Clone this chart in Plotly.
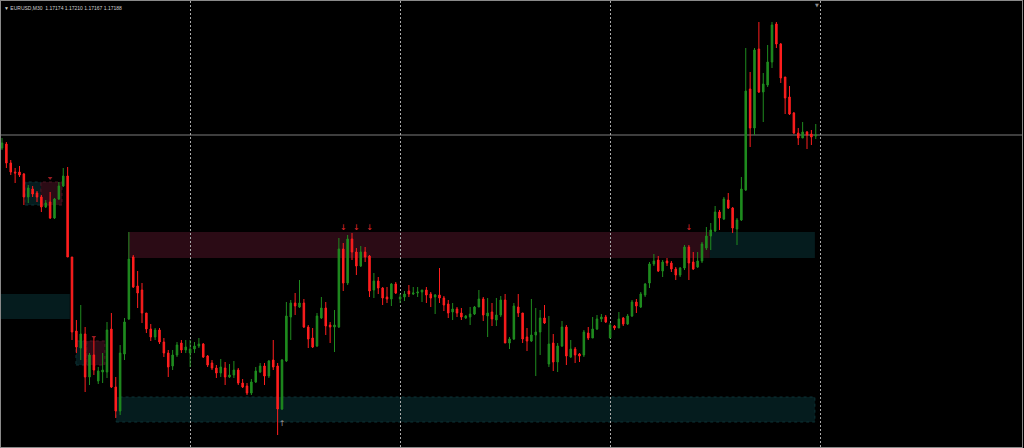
import plotly.graph_objects as go

# ---------------- data (EURUSD M30, bar index = position in window) ----------------
open_ = [
    1.17175, 1.17179, 1.17160, 1.17151, 1.17151, 1.17149, 1.17126, 1.17134, 1.17130, 1.17126,
    1.17116, 1.17121, 1.17105, 1.17124, 1.17137, 1.17147, 1.17066, 1.16992, 1.16975, 1.16989,
    1.16946, 1.16968, 1.16942, 1.16951, 1.16951, 1.16994, 1.16936, 1.16912, 1.16969, 1.17004,
    1.17066, 1.17037, 1.17033, 1.17010, 1.16994, 1.16986, 1.16993, 1.16981, 1.16970, 1.16957,
    1.16968, 1.16980, 1.16973, 1.16970, 1.16974, 1.16977, 1.16979, 1.16967, 1.16960, 1.16955,
    1.16950, 1.16955, 1.16946, 1.16948, 1.16953, 1.16940, 1.16937, 1.16930, 1.16941, 1.16951,
    1.16957, 1.16947, 1.16963, 1.16957, 1.16914, 1.16962, 1.17006, 1.17020, 1.17016, 1.17020,
    1.16996, 1.16985, 1.16977, 1.17005, 1.17015, 1.16998, 1.16996, 1.16996, 1.17074, 1.17040,
    1.17084, 1.17071, 1.17057, 1.17071, 1.17067, 1.17033, 1.17042, 1.17035, 1.17026, 1.17024,
    1.17039, 1.17024, 1.17026, 1.17032, 1.17029, 1.17030, 1.17031, 1.17033, 1.17029, 1.17026,
    1.17028, 1.17025, 1.17019, 1.17011, 1.17014, 1.17010, 1.17005, 1.17006, 1.17009, 1.17016,
    1.17024, 1.17007, 1.17011, 1.17003, 1.17008, 1.17023, 1.16980, 1.16984, 1.17016, 1.17010,
    1.16986, 1.16982, 1.16988, 1.16991, 1.17005, 1.16959, 1.16980, 1.16961, 1.16977, 1.16996,
    1.16966, 1.16974, 1.16969, 1.16968, 1.16990, 1.16985, 1.16994, 1.17004, 1.17006, 1.16985,
    1.16997, 1.16995, 1.17005, 1.16999, 1.17007, 1.17021, 1.17016, 1.17028, 1.17040, 1.17059,
    1.17063, 1.17052, 1.17062, 1.17060, 1.17054, 1.17048, 1.17055, 1.17076, 1.17061, 1.17056,
    1.17062, 1.17075, 1.17087, 1.17092, 1.17111, 1.17104, 1.17123, 1.17115, 1.17094, 1.17103,
    1.17133, 1.17234, 1.17195, 1.17274, 1.17231, 1.17238, 1.17261, 1.17299, 1.17279, 1.17246,
    1.17226, 1.17210, 1.17190, 1.17185, 1.17191, 1.17189, 1.17187,
]
high = [
    1.17185, 1.17181, 1.17163, 1.17155, 1.17157, 1.17150, 1.17138, 1.17137, 1.17132, 1.17128,
    1.17123, 1.17131, 1.17125, 1.17141, 1.17155, 1.17156, 1.17066, 1.17003, 1.17018, 1.16996,
    1.16970, 1.16986, 1.16956, 1.16970, 1.17001, 1.17010, 1.16946, 1.16978, 1.17005, 1.17091,
    1.17068, 1.17052, 1.17040, 1.17010, 1.16999, 1.16995, 1.16995, 1.16985, 1.16973, 1.16973,
    1.16981, 1.16983, 1.16983, 1.16983, 1.16981, 1.16985, 1.16980, 1.16968, 1.16963, 1.16958,
    1.16964, 1.16961, 1.16959, 1.16962, 1.16955, 1.16944, 1.16940, 1.16944, 1.16956, 1.16960,
    1.16960, 1.16963, 1.16983, 1.16960, 1.16964, 1.17021, 1.17023, 1.17030, 1.17043, 1.17024,
    1.16998, 1.16995, 1.17010, 1.17026, 1.17021, 1.17001, 1.17013, 1.17085, 1.17080, 1.17088,
    1.17090, 1.17075, 1.17077, 1.17076, 1.17068, 1.17050, 1.17046, 1.17036, 1.17036, 1.17040,
    1.17041, 1.17029, 1.17032, 1.17038, 1.17036, 1.17036, 1.17033, 1.17036, 1.17031, 1.17029,
    1.17055, 1.17027, 1.17023, 1.17020, 1.17016, 1.17015, 1.17008, 1.17016, 1.17017, 1.17033,
    1.17026, 1.17025, 1.17020, 1.17025, 1.17027, 1.17029, 1.16986, 1.17020, 1.17029, 1.17010,
    1.16995, 1.17024, 1.17015, 1.17013, 1.17018, 1.17007, 1.16989, 1.16980, 1.17002, 1.16998,
    1.16983, 1.16976, 1.16970, 1.16993, 1.16996, 1.17006, 1.17008, 1.17009, 1.17008, 1.17000,
    1.16998, 1.17011, 1.17006, 1.17009, 1.17023, 1.17024, 1.17031, 1.17040, 1.17061, 1.17069,
    1.17067, 1.17063, 1.17065, 1.17062, 1.17056, 1.17056, 1.17078, 1.17078, 1.17071, 1.17071,
    1.17081, 1.17096, 1.17100, 1.17117, 1.17113, 1.17126, 1.17130, 1.17116, 1.17105, 1.17146,
    1.17275, 1.17251, 1.17275, 1.17301, 1.17250, 1.17278, 1.17301, 1.17301, 1.17280, 1.17246,
    1.17237, 1.17211, 1.17195, 1.17201, 1.17192, 1.17193, 1.17199,
]
low = [
    1.17173, 1.17155, 1.17148, 1.17140, 1.17146, 1.17118, 1.17120, 1.17126, 1.17121, 1.17111,
    1.17115, 1.17104, 1.17104, 1.17123, 1.17136, 1.17066, 1.16983, 1.16970, 1.16963, 1.16931,
    1.16938, 1.16948, 1.16939, 1.16940, 1.16945, 1.16935, 1.16905, 1.16908, 1.16963, 1.17003,
    1.17035, 1.17015, 1.17000, 1.16990, 1.16982, 1.16983, 1.16979, 1.16966, 1.16946, 1.16953,
    1.16966, 1.16970, 1.16970, 1.16956, 1.16970, 1.16975, 1.16965, 1.16956, 1.16953, 1.16945,
    1.16946, 1.16938, 1.16945, 1.16945, 1.16938, 1.16935, 1.16928, 1.16928, 1.16940, 1.16950,
    1.16938, 1.16945, 1.16953, 1.16888, 1.16913, 1.16961, 1.16983, 1.17008, 1.17015, 1.16995,
    1.16975, 1.16975, 1.16976, 1.17004, 1.16988, 1.16980, 1.16971, 1.16995, 1.17032, 1.17038,
    1.17063, 1.17048, 1.17056, 1.17061, 1.17026, 1.17025, 1.17029, 1.17018, 1.17020, 1.17017,
    1.17029, 1.17020, 1.17022, 1.17026, 1.17028, 1.17026, 1.17021, 1.17020, 1.17016, 1.17009,
    1.17020, 1.17012, 1.17005, 1.17003, 1.17006, 1.17003, 1.17004, 1.16998, 1.17008, 1.17016,
    1.17002, 1.16986, 1.16997, 1.16997, 1.17006, 1.16980, 1.16974, 1.16983, 1.17006, 1.16980,
    1.16972, 1.16981, 1.16947, 1.16968, 1.16999, 1.16956, 1.16952, 1.16951, 1.16976, 1.16958,
    1.16965, 1.16960, 1.16961, 1.16966, 1.16983, 1.16985, 1.16993, 1.17001, 1.17000, 1.16985,
    1.16993, 1.16995, 1.16997, 1.16998, 1.17006, 1.17010, 1.17015, 1.17026, 1.17035, 1.17057,
    1.17051, 1.17046, 1.17057, 1.17051, 1.17043, 1.17046, 1.17053, 1.17043, 1.17053, 1.17055,
    1.17060, 1.17073, 1.17073, 1.17091, 1.17093, 1.17103, 1.17114, 1.17090, 1.17078, 1.17102,
    1.17132, 1.17176, 1.17188, 1.17230, 1.17201, 1.17236, 1.17255, 1.17275, 1.17240, 1.17209,
    1.17208, 1.17189, 1.17178, 1.17185, 1.17174, 1.17178, 1.17184,
]
close = [
    1.17180, 1.17160, 1.17151, 1.17150, 1.17148, 1.17126, 1.17135, 1.17129, 1.17126, 1.17116,
    1.17120, 1.17105, 1.17124, 1.17137, 1.17147, 1.17066, 1.16991, 1.16976, 1.16989, 1.16946,
    1.16968, 1.16953, 1.16952, 1.16953, 1.16993, 1.16936, 1.16912, 1.16970, 1.17001, 1.17064,
    1.17036, 1.17030, 1.17010, 1.16994, 1.16986, 1.16993, 1.16981, 1.16970, 1.16956, 1.16968,
    1.16978, 1.16973, 1.16976, 1.16974, 1.16977, 1.16979, 1.16966, 1.16958, 1.16955, 1.16950,
    1.16956, 1.16946, 1.16948, 1.16953, 1.16940, 1.16936, 1.16930, 1.16941, 1.16952, 1.16957,
    1.16947, 1.16962, 1.16956, 1.16914, 1.16963, 1.17007, 1.17020, 1.17017, 1.17020, 1.16996,
    1.16984, 1.16976, 1.17007, 1.17015, 1.16997, 1.16996, 1.16998, 1.17074, 1.17040, 1.17084,
    1.17071, 1.17057, 1.17071, 1.17066, 1.17032, 1.17042, 1.17035, 1.17025, 1.17024, 1.17039,
    1.17030, 1.17026, 1.17029, 1.17029, 1.17030, 1.17031, 1.17033, 1.17028, 1.17025, 1.17028,
    1.17025, 1.17018, 1.17010, 1.17014, 1.17010, 1.17006, 1.17007, 1.17009, 1.17016, 1.17024,
    1.17008, 1.17010, 1.17004, 1.17008, 1.17023, 1.16980, 1.16984, 1.17017, 1.17010, 1.16984,
    1.16982, 1.16988, 1.16991, 1.17005, 1.17000, 1.16979, 1.16961, 1.16977, 1.16996, 1.16967,
    1.16974, 1.16968, 1.16967, 1.16991, 1.16985, 1.16994, 1.17004, 1.17006, 1.17001, 1.16998,
    1.16995, 1.17004, 1.16999, 1.17007, 1.17021, 1.17017, 1.17029, 1.17039, 1.17059, 1.17062,
    1.17052, 1.17061, 1.17060, 1.17054, 1.17048, 1.17055, 1.17076, 1.17060, 1.17054, 1.17062,
    1.17079, 1.17087, 1.17093, 1.17111, 1.17105, 1.17124, 1.17115, 1.17095, 1.17103, 1.17134,
    1.17232, 1.17195, 1.17273, 1.17231, 1.17239, 1.17261, 1.17298, 1.17279, 1.17245, 1.17225,
    1.17209, 1.17190, 1.17185, 1.17191, 1.17188, 1.17186, 1.17188,
]
bars = list(range(len(close)))

# day separators (every 48 M30 bars)
day_bars = [43, 91, 139, 187]
bid_price = 1.17188
header = "▼ EURUSD,M30  1.17174 1.17210 1.17167 1.17188"

# supply / demand zones: (kind, first bar, last bar, upper price, lower price, dashed)
zones = [
    ("supply", 28.8, 161.8, 1.17091, 1.17065, False),
    ("demand", 161.8, 185.8, 1.17091, 1.17065, False),
    ("demand", -2.0, 15.5, 1.17029, 1.17004, False),
    ("demand", 26.1, 185.8, 1.16926, 1.16901, True),
    ("demand", 5.3, 8.9, 1.17141, 1.17118, True),
    ("supply", 8.9, 13.7, 1.17141, 1.17118, True),
    ("demand", 16.9, 19.4, 1.16982, 1.16958, True),
    ("supply", 19.4, 23.5, 1.16982, 1.16958, True),
]
sell_arrow_bars = [78, 81, 84, 157]
sell_arrow_price = 1.17095
buy_arrow_bars = [64]
buy_arrow_price = 1.16899
small_mark_bars = [11, 21]
small_mark_prices = [1.17145, 1.16986]

# ---------------- figure ----------------
UP = "#1f8c1f"
DN = "#ff1e1e"

fig = go.Figure()
fig.add_trace(go.Candlestick(
    x=bars, open=open_, high=high, low=low, close=close,
    increasing=dict(line=dict(color=UP, width=1), fillcolor=UP),
    decreasing=dict(line=dict(color=DN, width=1), fillcolor=DN),
    whiskerwidth=0, hoverinfo="skip", showlegend=False,
))

fig.add_trace(go.Scatter(
    x=sell_arrow_bars, y=[sell_arrow_price] * len(sell_arrow_bars),
    mode="text", text=["↓"] * len(sell_arrow_bars),
    textfont=dict(color="#e8282c", size=8, family="DejaVu Sans"),
    hoverinfo="skip", showlegend=False,
))
fig.add_trace(go.Scatter(
    x=buy_arrow_bars, y=[buy_arrow_price] * len(buy_arrow_bars),
    mode="text", text=["↑"] * len(buy_arrow_bars),
    textfont=dict(color="#9a9a9a", size=8, family="DejaVu Sans"),
    hoverinfo="skip", showlegend=False,
))
fig.add_trace(go.Scatter(
    x=small_mark_bars, y=small_mark_prices,
    mode="markers", marker=dict(symbol="triangle-down", size=4, color="#9a1c22"),
    hoverinfo="skip", showlegend=False,
))

zone_fill = {"supply": "#2b0b15", "demand": "#051c1e"}
zone_edge = {"supply": "#4a1422", "demand": "#0d3336"}
for kind, b0, b1, top, bot, dashed in zones:
    fig.add_shape(
        type="rect", xref="x", yref="y", x0=b0, x1=b1, y0=bot, y1=top,
        fillcolor=zone_fill[kind],
        line=dict(color=zone_edge[kind], width=1 if dashed else 0, dash="dot"),
        layer="below",
    )

fig.add_shape(type="line", xref="paper", yref="y", x0=0, x1=1,
              y0=bid_price, y1=bid_price, line=dict(color="#7c7c7c", width=1),
              layer="below")

fig.add_annotation(xref="paper", yref="paper", x=0, y=1, xanchor="left",
                   yanchor="top", xshift=1, yshift=-2, showarrow=False,
                   text=header, font=dict(color="#d0d0d0", size=5,
                                          family="Liberation Sans"))
fig.add_annotation(xref="x", yref="paper", x=186.3, y=1, xanchor="center",
                   yanchor="top", yshift=1, showarrow=False, text="▼",
                   font=dict(color="#8c8c8c", size=5, family="DejaVu Sans"))

x_lo = -1 / 4.375
x_hi = 1020 / 4.375
fig.update_layout(
    width=1024, height=448,
    margin=dict(l=1, r=2, t=1, b=1),
    paper_bgcolor="#000000", plot_bgcolor="#000000",
    boxgap=0.5, hovermode=False, showlegend=False,
    xaxis=dict(range=[x_lo, x_hi], rangeslider=dict(visible=False),
               tickvals=day_bars, showticklabels=False, ticks="",
               showgrid=True, gridcolor="#a8a8a8", gridwidth=1,
               griddash="2px,2px", zeroline=False,
               showline=True, mirror=True, linecolor="#8a8a8a", linewidth=1),
    yaxis=dict(range=[1.16876, 1.17322], showgrid=False, zeroline=False,
               showticklabels=False, ticks="",
               showline=True, mirror=True, linecolor="#8a8a8a", linewidth=1),
)

fig.write_html(
    "out.html",
    config={"displayModeBar": False},
    post_script="document.body.style.margin='0';document.body.style.padding='0';"
                "document.body.style.background='#000';document.body.style.overflow='hidden';",
)
